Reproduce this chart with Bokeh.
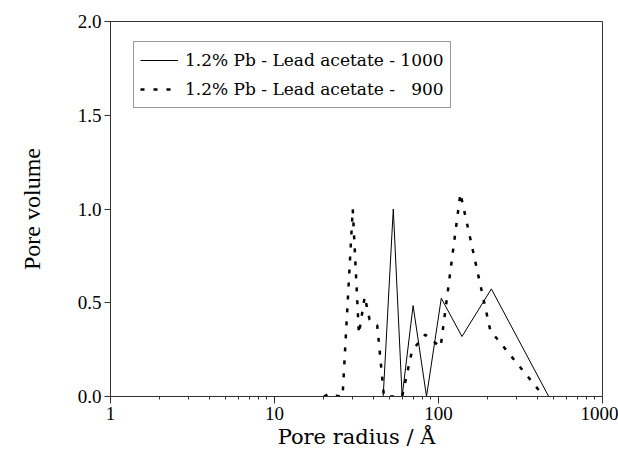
from bokeh.plotting import figure
from bokeh.models import (FixedTicker, PrintfTickFormatter, Legend, LegendItem,
                          Range1d)
from bokeh.embed import file_html
from bokeh.resources import INLINE

# Data
radius_1000 = [20, 46, 53, 60, 70, 84.5, 104, 139, 210, 470]
volume_1000 = [0, 0, 1.0, 0, 0.485, 0, 0.524, 0.32, 0.574, 0]

radius_900 = [20, 21.5, 23, 26, 30, 32.7, 35.5, 38, 42.3, 46.5, 60, 69, 83, 103, 136, 207, 440]
volume_900 = [0, 0.015, 0.005, 0, 1.0, 0.334, 0.533, 0.41, 0.38, 0, 0, 0.245, 0.33, 0.263, 1.084, 0.352, 0]

x_ticks = [1, 10, 100, 1000]
x_minor = [2, 3, 4, 5, 6, 7, 8, 9, 20, 30, 40, 50, 60, 70, 80, 90,
           200, 300, 400, 500, 600, 700, 800, 900]
y_ticks = [0.0, 0.5, 1.0, 1.5, 2.0]

label_1000 = "1.2% Pb - Lead acetate - 1000"
label_900 = "1.2% Pb - Lead acetate -   900"

FONT = "'Liberation Serif', 'Times New Roman', serif"
ALT_SERIF = "'DejaVu Serif'"

p = figure(frame_width=492, frame_height=375, x_axis_type="log",
           x_range=Range1d(1, 1000), y_range=Range1d(0, 2),
           output_backend="svg", toolbar_location=None,
           min_border_left=110, min_border_right=16,
           min_border_top=21, min_border_bottom=58)

p.background_fill_color = "white"
p.border_fill_color = "white"
p.outline_line_color = "#333333"
p.outline_line_width = 1
p.xgrid.visible = False
p.ygrid.visible = False

r1 = p.line(radius_1000, volume_1000, line_color="black", line_width=1)
r2 = p.line(radius_900, volume_900, line_color="black", line_width=2.5,
            line_dash="4 9")

p.xaxis.ticker = FixedTicker(ticks=x_ticks, minor_ticks=x_minor)
p.xaxis.formatter = PrintfTickFormatter(format="%d")
p.yaxis.ticker = FixedTicker(ticks=y_ticks, minor_ticks=[])
p.yaxis.formatter = PrintfTickFormatter(format="%.1f")

for ax in (p.xaxis, p.yaxis):
    ax.axis_line_color = "#333333"
    ax.major_tick_line_color = "#333333"
    ax.minor_tick_line_color = "#333333"
    ax.major_label_text_font = FONT
    ax.major_label_text_font_size = "19px"
    ax.major_label_text_color = "black"
    ax.axis_label_text_font = FONT
    ax.axis_label_text_font_size = "24px"
    ax.axis_label_text_font_style = "normal"
    ax.axis_label_text_color = "black"
    ax.major_tick_in = 0

p.xaxis.axis_label_text_font = ALT_SERIF
p.xaxis.axis_label_text_font_size = "21px"
p.xaxis.major_tick_out = 7
p.xaxis.minor_tick_out = 3
p.xaxis.minor_tick_in = 0
p.xaxis.major_label_standoff = 3
p.xaxis.axis_label = "Pore radius / \u00c5"
p.xaxis.axis_label_standoff = 2

p.yaxis.major_tick_out = 6
p.yaxis.minor_tick_out = 0
p.yaxis.major_label_standoff = 3
p.yaxis.axis_label = "Pore volume"
p.yaxis.axis_label_standoff = 30

legend = Legend(items=[LegendItem(label=label_1000, renderers=[r1]),
                       LegendItem(label=label_900, renderers=[r2])],
                location=(23, 288))
legend.label_text_font = ALT_SERIF
legend.label_text_font_size = "17px"
legend.label_text_color = "black"
legend.glyph_width = 38
legend.glyph_height = 24
legend.label_height = 24
legend.spacing = 5
legend.padding = 6
legend.margin = 0
legend.label_standoff = 7
legend.border_line_color = "#333333"
legend.border_line_width = 1
legend.background_fill_alpha = 1
p.add_layout(legend, "center")

open("out.html", "w").write(file_html(p, INLINE))
